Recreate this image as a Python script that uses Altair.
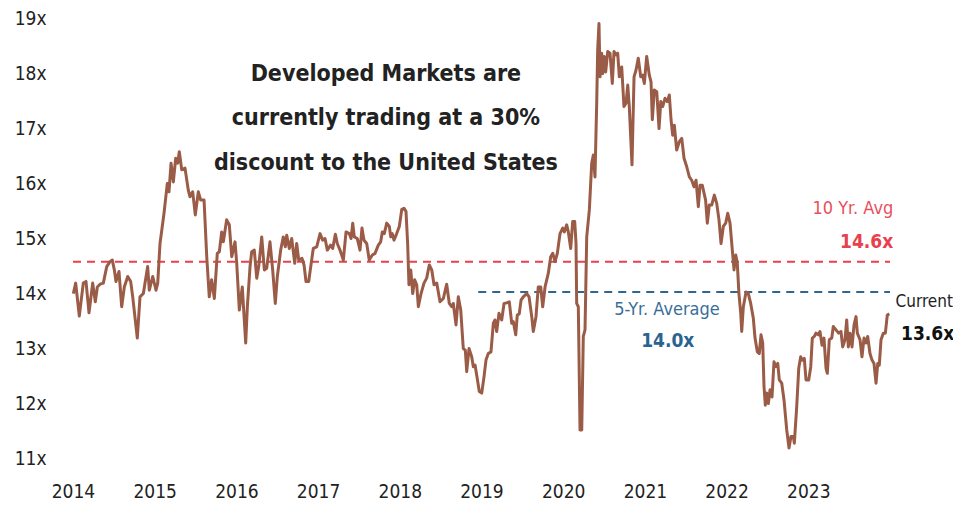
import altair as alt
import pandas as pd

# Decimal-year dates and forward P/E values
dates = [
    2014.004, 2014.033, 2014.077, 2014.126, 2014.159, 2014.196, 2014.241, 2014.273, 2014.298, 2014.331,
    2014.371, 2014.413, 2014.453, 2014.481, 2014.506, 2014.526, 2014.563, 2014.596, 2014.628, 2014.670,
    2014.706, 2014.731, 2014.787, 2014.820, 2014.861, 2014.914, 2014.934, 2014.976, 2015.016, 2015.037,
    2015.065, 2015.114, 2015.154, 2015.175, 2015.200, 2015.228, 2015.257, 2015.281, 2015.301, 2015.331,
    2015.371, 2015.411, 2015.432, 2015.465, 2015.497, 2015.534, 2015.563, 2015.604, 2015.637,
    2015.668, 2015.697, 2015.730, 2015.766, 2015.791, 2015.820, 2015.840, 2015.881, 2015.913, 2015.943,
    2015.983, 2016.004, 2016.036, 2016.072, 2016.114, 2016.134, 2016.167, 2016.187, 2016.219, 2016.249,
    2016.273, 2016.310, 2016.342, 2016.371, 2016.411, 2016.444, 2016.476, 2016.501, 2016.542, 2016.574,
    2016.599, 2016.616, 2016.648, 2016.677, 2016.714, 2016.738, 2016.763, 2016.803, 2016.828, 2016.852,
    2016.885, 2016.910, 2016.941, 2016.983, 2017.024, 2017.056, 2017.085, 2017.113, 2017.153, 2017.179,
    2017.211, 2017.235, 2017.268, 2017.309, 2017.342,
    2017.382, 2017.403, 2017.424, 2017.443, 2017.480, 2017.513, 2017.537, 2017.562, 2017.595, 2017.626,
    2017.664, 2017.697, 2017.737, 2017.766, 2017.786, 2017.810, 2017.840, 2017.872, 2017.889, 2017.908,
    2017.929, 2017.962, 2017.994, 2018.024, 2018.052, 2018.076, 2018.096, 2018.112, 2018.134, 2018.158,
    2018.182, 2018.207, 2018.227, 2018.260, 2018.296, 2018.329, 2018.361, 2018.391, 2018.419, 2018.452,
    2018.492, 2018.533, 2018.574, 2018.606, 2018.635, 2018.655, 2018.688, 2018.716, 2018.746, 2018.777,
    2018.802, 2018.819, 2018.847, 2018.880, 2018.900, 2018.921, 2018.941, 2018.973, 2019.003,
    2019.031, 2019.055, 2019.083, 2019.116, 2019.145, 2019.165, 2019.186, 2019.214, 2019.247, 2019.276,
    2019.309, 2019.340, 2019.370, 2019.389, 2019.419, 2019.438, 2019.462, 2019.484, 2019.511, 2019.533,
    2019.554, 2019.582, 2019.615, 2019.634, 2019.667, 2019.695, 2019.725, 2019.749, 2019.778, 2019.818,
    2019.847, 2019.872, 2019.900, 2019.928, 2019.961, 2019.994, 2020.014, 2020.043, 2020.063, 2020.092,
    2020.116, 2020.141, 2020.157, 2020.165, 2020.185, 2020.206, 2020.227, 2020.246, 2020.267, 2020.288,
    2020.320, 2020.349, 2020.369, 2020.389, 2020.410, 2020.422, 2020.438, 2020.451, 2020.471, 2020.484,
    2020.503, 2020.520, 2020.545, 2020.573, 2020.601, 2020.622, 2020.646, 2020.667, 2020.687, 2020.716,
    2020.744, 2020.769, 2020.790, 2020.809, 2020.842, 2020.867, 2020.891, 2020.919, 2020.949, 2020.973,
    2020.993, 2021.022, 2021.054, 2021.075, 2021.091, 2021.115, 2021.145, 2021.173, 2021.194, 2021.218,
    2021.246, 2021.274, 2021.299, 2021.320, 2021.340, 2021.360, 2021.389, 2021.421, 2021.451, 2021.479,
    2021.511, 2021.544, 2021.573, 2021.601, 2021.626, 2021.654, 2021.675, 2021.702, 2021.743, 2021.764,
    2021.788, 2021.818, 2021.850, 2021.879, 2021.907, 2021.932, 2021.960, 2021.989, 2022.014, 2022.042,
    2022.070, 2022.091, 2022.112, 2022.131, 2022.151, 2022.173, 2022.185, 2022.205, 2022.238, 2022.266,
    2022.295, 2022.327, 2022.348, 2022.376, 2022.400, 2022.421, 2022.442,
    2022.458, 2022.474, 2022.491, 2022.511, 2022.532, 2022.556, 2022.580, 2022.605, 2022.626, 2022.645,
    2022.675, 2022.703, 2022.736, 2022.764, 2022.788, 2022.817, 2022.829, 2022.858, 2022.883, 2022.907,
    2022.927, 2022.951, 2022.972, 2023.005, 2023.030, 2023.049, 2023.074, 2023.094, 2023.122, 2023.143,
    2023.168, 2023.192, 2023.217, 2023.233, 2023.257, 2023.287, 2023.306, 2023.339, 2023.372, 2023.400,
    2023.421, 2023.449, 2023.470, 2023.490, 2023.511, 2023.535, 2023.560, 2023.584, 2023.600, 2023.633,
    2023.657, 2023.682, 2023.706, 2023.727, 2023.755, 2023.780, 2023.804, 2023.829, 2023.850, 2023.869,
    2023.890, 2023.918, 2023.943, 2023.967, 2023.992,
]

pe_values = [
    13.99, 14.18, 13.58, 14.18, 14.21, 13.64, 14.18, 13.84, 14.11, 14.16,
    14.18, 14.48, 14.57, 14.60, 14.42, 14.21, 14.39, 13.75, 14.11, 14.30,
    14.21, 13.93, 13.18, 13.93, 13.99, 14.48, 14.05, 14.30, 14.05, 14.18,
    14.90, 15.45, 15.99, 15.84, 16.36, 16.02, 16.45, 16.36, 16.57, 16.24,
    16.27, 15.87, 15.75, 15.84, 15.42, 15.84, 15.69, 15.69, 14.66,
    13.93, 14.24, 13.90, 14.72, 14.75, 15.11, 14.93, 15.33, 15.24, 14.66,
    14.93, 14.54, 13.69, 14.11, 13.09, 13.75, 14.48, 14.75, 14.78, 14.27,
    14.48, 15.02, 14.42, 14.45, 14.93, 14.42, 13.81, 14.30, 14.78, 15.02,
    14.84, 15.05, 14.81, 14.99, 14.54, 14.90, 14.60, 14.63, 14.51, 14.21,
    14.21, 14.48, 14.81, 14.84, 15.08, 14.96, 14.99, 14.78, 14.87, 14.81,
    15.07, 14.90, 14.78, 14.60, 15.11,
    15.08, 14.99, 15.27, 15.02, 14.99, 14.78, 15.18, 14.96, 14.90, 14.60,
    14.69, 14.72, 14.87, 14.93, 15.11, 15.08, 15.27, 15.21, 15.02, 15.08,
    14.96, 15.08, 15.21, 15.52, 15.54, 15.48, 14.90, 14.15, 14.42, 13.99,
    14.24, 14.15, 13.75, 13.99, 14.18, 14.27, 14.51, 14.42, 14.15, 14.18,
    13.84, 13.90, 14.16, 13.81, 13.75, 13.81, 13.42, 13.93, 13.69, 12.99,
    12.96, 12.57, 12.99, 12.84, 12.66, 12.69, 12.51, 12.21, 12.18,
    12.48, 12.78, 12.90, 12.93, 13.45, 13.51, 13.30, 13.63, 13.51, 13.81,
    13.82, 13.84, 13.45, 13.48, 13.24, 13.60, 13.62, 13.87, 13.93, 13.96,
    13.99, 13.93, 13.57, 13.30, 13.57, 14.11, 14.11, 13.75, 14.11, 14.36,
    14.66, 14.72, 14.57, 14.72, 15.08, 15.18, 15.11, 15.24, 15.11, 14.81,
    15.30, 15.30, 14.90, 13.81, 13.75, 11.51, 11.51, 13.21, 13.33, 15.02,
    15.51, 16.36, 16.51, 16.11, 17.45, 18.42, 18.90, 17.93, 18.36, 17.99,
    18.30, 18.02, 18.39, 18.36, 17.81, 18.39, 18.33, 18.36, 17.93, 18.11,
    17.39, 17.45, 17.78, 17.39, 16.33, 17.93, 18.05, 18.27, 17.93, 17.96,
    17.81, 18.30, 17.96, 17.84, 17.15, 17.69, 17.66, 16.99, 17.48, 17.39,
    17.54, 17.48, 17.60, 17.15, 16.87, 17.05, 16.60, 16.75, 16.81, 16.45,
    16.30, 16.11, 16.05, 15.93, 16.05, 15.57, 15.96, 15.96, 15.69, 15.27,
    15.60, 15.60, 15.78, 15.63, 15.33, 14.90, 15.21, 15.27, 15.45, 15.27,
    14.78, 14.42, 14.69, 14.54, 13.99, 13.63, 13.30, 13.75, 14.02, 13.99,
    13.81, 13.54, 13.18, 12.93, 12.90, 13.24, 13.09,
    12.30, 11.96, 12.18, 11.99, 12.24, 12.11, 12.75, 12.66, 12.72, 12.42,
    12.36, 12.05, 11.51, 11.18, 11.39, 11.39, 11.27, 11.93, 12.63, 12.84,
    12.78, 12.81, 12.42, 12.42, 12.66, 13.18, 13.21, 13.27, 13.24, 13.30,
    13.05, 13.18, 12.63, 12.54, 13.15, 13.18, 13.39, 13.33, 13.27, 13.30,
    13.02, 13.15, 13.51, 13.02, 13.27, 13.02, 13.42, 13.57, 13.27, 13.15,
    12.84, 13.18, 13.09, 13.21, 12.90, 12.78, 12.72, 12.36, 12.72, 12.69,
    13.15, 13.27, 13.27, 13.60, 13.62,
]

year_ticks = [2014, 2015, 2016, 2017, 2018, 2019, 2020, 2021, 2022, 2023]
pe_ticks = [11, 12, 13, 14, 15, 16, 17, 18, 19]

avg10_value = 14.57
avg5_value = 14.02
avg5_start = 2018.96

title_lines = ["Developed Markets are", "currently trading at a 30%", "discount to the United States"]

FONT = "'Liberation Sans Narrow', 'Arial Narrow', 'DejaVu Sans Condensed', 'Roboto Condensed', Roboto, sans-serif"
BROWN = "#9B5C47"
RED = "#E8404C"
BLUE = "#2E6792"

df = pd.DataFrame({"t": dates, "pe": pe_values})

xscale = alt.Scale(domain=[2014, 2024], nice=False, zero=False)
yscale = alt.Scale(domain=[11, 19], nice=False, zero=False)

x_axis = alt.Axis(values=year_ticks, format="d", title=None, grid=False, domain=False,
                  ticks=False, labelFontSize=19, labelFont=FONT, labelColor="#222222",
                  labelPadding=24, labelFlush=False)
y_axis = alt.Axis(values=pe_ticks, labelExpr="datum.value + 'x'", title=None, grid=False,
                  domain=False, ticks=False, labelFontSize=19, labelFont=FONT,
                  labelColor="#222222", labelPadding=27)

line = alt.Chart(df).mark_line(color=BROWN, strokeWidth=3, strokeJoin="round").encode(
    x=alt.X("t:Q", scale=xscale, axis=x_axis),
    y=alt.Y("pe:Q", scale=yscale, axis=y_axis),
)

rules_df = pd.DataFrame({
    "x1": [2014, avg5_start], "x2": [2024, 2024],
    "y": [avg10_value, avg5_value], "kind": ["10yr", "5yr"],
})
rules = alt.Chart(rules_df).mark_rule(strokeWidth=2, strokeDash=[8, 6]).encode(
    x=alt.X("x1:Q", scale=xscale),
    x2="x2:Q",
    y=alt.Y("y:Q", scale=yscale),
    color=alt.Color("kind:N", scale=alt.Scale(domain=["10yr", "5yr"], range=[RED, BLUE]), legend=None),
)

title_df = pd.DataFrame({"t": [2017.83] * 3, "pe": [17.98, 17.18, 16.36], "text": title_lines})
title = alt.Chart(title_df).mark_text(font=FONT, fontSize=23, fontWeight="bold", color="#222222",
                                      align="center", baseline="middle").encode(
    x=alt.X("t:Q", scale=xscale), y=alt.Y("pe:Q", scale=yscale), text="text:N")


def label(t, pe, text, color, size, bold, align):
    d = pd.DataFrame({"t": [t], "pe": [pe], "text": [text]})
    kw = dict(font=FONT, fontSize=size, color=color, align=align, baseline="middle")
    if bold:
        kw["fontWeight"] = "bold"
    return alt.Chart(d).mark_text(**kw).encode(
        x=alt.X("t:Q", scale=xscale), y=alt.Y("pe:Q", scale=yscale), text="text:N")


labels = [
    label(2024.04, 15.53, "10 Yr. Avg", "#E8505C", 18, False, "right"),
    label(2024.04, 14.93, "14.6x", RED, 19, True, "right"),
    label(2021.27, 13.69, "5-Yr. Average", "#3A6E98", 18, False, "center"),
    label(2021.28, 13.13, "14.0x", "#2B6390", 19, True, "center"),
    label(2024.77, 13.84, "Current", "#222222", 17, False, "right"),
    label(2024.46, 13.25, "13.6x", "#111111", 19, True, "center"),
]

chart = alt.layer(rules, line, title, *labels).properties(
    width=817, height=440,
    background="white",
    autosize=alt.AutoSizeParams(type="none"),
    padding={"left": 65, "top": 10, "right": 63, "bottom": 43},
).configure_view(stroke=None, strokeWidth=0)

chart.save("out.html", embed_options={"renderer": "svg", "actions": False})
